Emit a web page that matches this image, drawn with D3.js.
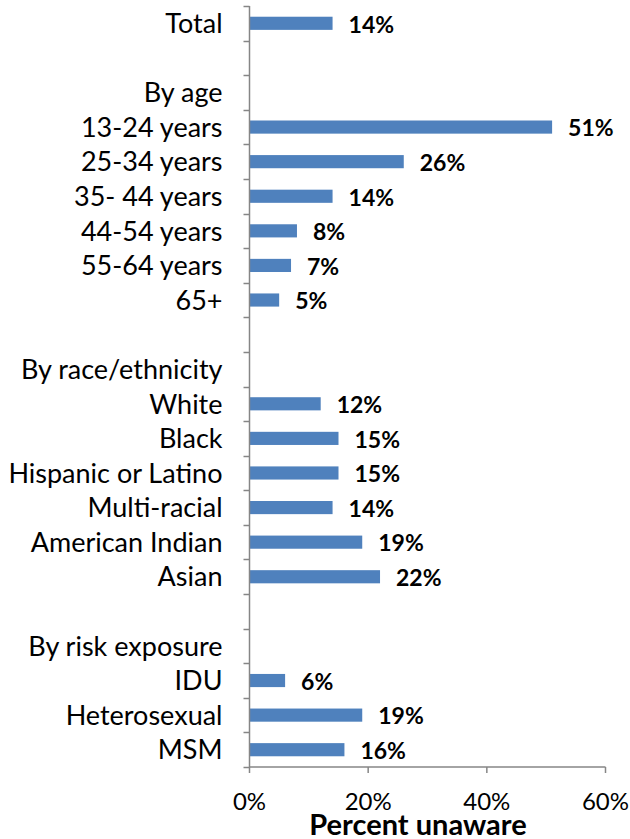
<!DOCTYPE html>
<html><head><meta charset="utf-8">
<script src="https://cdn.jsdelivr.net/npm/d3@7"></script>
<style>body{margin:0;background:#fff}</style>
</head><body>
<svg id="c" width="630" height="839"></svg>
<script>
const categories = ["Total","","By age","13-24 years","25-34 years","35- 44 years","44-54 years","55-64 years","65+","","By race/ethnicity","White","Black","Hispanic or Latino","Multi-racial","American Indian","Asian","","By risk exposure","IDU","Heterosexual","MSM"];
const values = [14,null,null,51,26,14,8,7,5,null,null,12,15,15,14,19,22,null,null,6,19,16];
const xTicks = [0,20,40,60];
const axisTitle = "Percent unaware";

(function(){
const svg = d3.select("#c");
const pL = 249.5, pR = 605.5, pT = 6, pB = 767;
const x = d3.scaleLinear().domain([0,60]).range([pL,pR]);
const y = d3.scaleBand().domain(categories.map((d,i)=>i)).range([pT,pB]).paddingInner(0.62).paddingOuter(0.31);
const yb = d3.scaleBand().domain(categories.map((d,i)=>i)).range([pT,pB]);
const font = "Lato, 'Open Sans', sans-serif";
const axisCol = "#868686";
const rows = values.map((v,i)=>({v,i})).filter(d=>d.v!=null);

svg.selectAll("rect.bar").data(rows).join("rect")
  .attr("x", x(0)).attr("y", d=>y(d.i)).attr("width", d=>x(d.v)-x(0)).attr("height", y.bandwidth())
  .attr("fill","#4F81BD");

svg.selectAll("text.val").data(rows).join("text")
  .attr("x", d=>x(d.v)+16).attr("y", d=>yb(d.i)+yb.bandwidth()/2+1)
  .attr("dy","0.36em").attr("font-family",font).attr("font-weight","bold").attr("font-size",23)
  .attr("fill","#000").text(d=>d.v+"%");

svg.append("line").attr("x1",pL).attr("x2",pL).attr("y1",pT).attr("y2",pB).attr("stroke",axisCol).attr("stroke-width",1.5);
const bounds = categories.map((d,i)=>yb(i)).concat([pB]);
svg.selectAll("line.yt").data(bounds).join("line")
  .attr("x1",pL-6).attr("x2",pL).attr("y1",d=>Math.round(d)+0.5).attr("y2",d=>Math.round(d)+0.5)
  .attr("stroke",axisCol).attr("stroke-width",1.5);

svg.selectAll("text.cat").data(categories.map((c,i)=>({c,i})).filter(d=>d.c)).join("text")
  .attr("x", pL-27).attr("y", d=>yb(d.i)+yb.bandwidth()/2).attr("dy","0.36em")
  .attr("text-anchor","end").attr("font-family",font).attr("font-size",27).attr("fill","#000")
  .text(d=>d.c);

svg.append("line").attr("x1",pL).attr("x2",pR).attr("y1",pB).attr("y2",pB).attr("stroke",axisCol).attr("stroke-width",1.5);
svg.selectAll("line.xt").data(xTicks).join("line")
  .attr("x1",d=>x(d)).attr("x2",d=>x(d)).attr("y1",pB).attr("y2",pB+6).attr("stroke",axisCol).attr("stroke-width",1.5);
svg.selectAll("text.xl").data(xTicks).join("text")
  .attr("x",d=>x(d)).attr("y",810).attr("text-anchor","middle").attr("font-family",font).attr("font-size",24).attr("fill","#000")
  .text(d=>d+"%");
svg.append("text").attr("x",418).attr("y",835).attr("text-anchor","middle")
  .attr("font-family",font).attr("font-weight","bold").attr("font-size",29).attr("fill","#000").text(axisTitle);
})();
</script>
</body></html>
